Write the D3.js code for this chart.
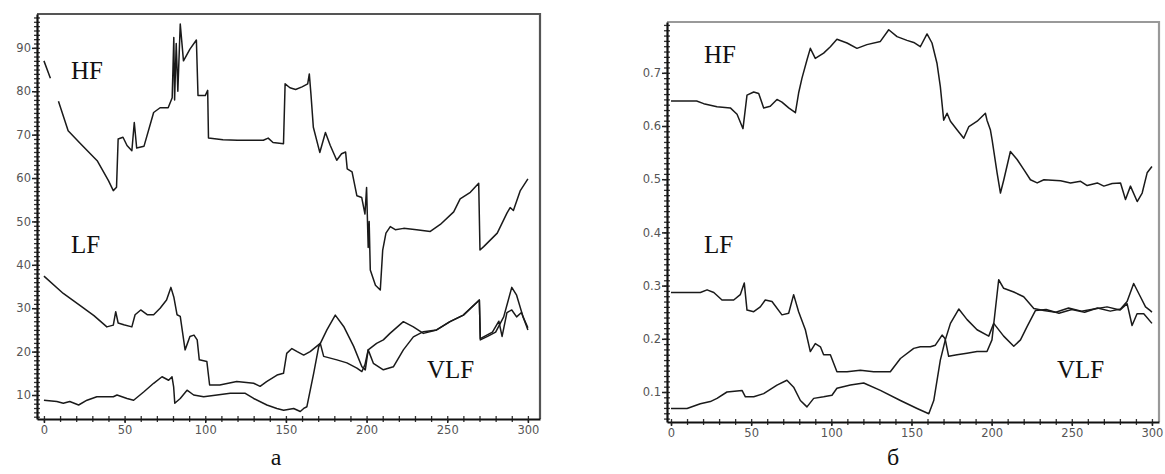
<!DOCTYPE html>
<html lang="ru">
<head>
<meta charset="UTF-8"/>
<title>HF / LF / VLF</title>
<script src="https://d3js.org/d3.v7.min.js"></script>
<style>
  body { margin:0; background:#fff; }
  .tick text { font-family:"DejaVu Sans", sans-serif; font-size:11.5px; fill:#555; }
  .lbl { font-family:"Liberation Serif", serif; font-size:25px; fill:#111; }
  .cap { font-family:"Liberation Serif", serif; font-size:24px; fill:#111; }
</style>
</head>
<body>
<script>
// ---- panel а (percent) ----
var hfA = [[0,87],[4,83],[6,null],[9,77.7],[15,70.9],[23,67.8],[33,64],[40,59.4],[43,57.1],[45,57.9],[46,69],[49,69.4],[51.5,67.5],[54.5,66.3],[56,72.8],[57.5,66.9],[62,67.3],[68,75.1],[72,76.2],[77,76.2],[79.5,78.5],[80.5,92.4],[81,78],[82,91],[83,80],[84.5,95.5],[86.5,87],[90.5,89.7],[94.5,91.8],[95.5,79],[100,79],[101.5,80.2],[102,69.2],[111,68.8],[120,68.7],[136,68.7],[139,69.2],[142,68.2],[148.5,67.9],[149.5,81.7],[152.5,80.8],[156,80.4],[160,81],[163.5,81.7],[164.5,84],[165.5,79.4],[167,71.7],[171,65.9],[174.5,70.5],[177.5,67.5],[181.5,64.1],[184.5,65.6],[187,66],[188,62.1],[191,61.4],[194,55.9],[197,55.5],[199,51.7],[200,57.8],[201,44],[201.6,50],[202.3,38.8],[205.5,35.3],[208.5,34.2],[210,43.4],[212,47.3],[214.7,48.8],[217.8,48.1],[223,48.4],[231,48.1],[239.5,47.7],[245.7,49.3],[254,52.2],[258,55.2],[264.3,56.7],[269.5,58.8],[270.3,43.4],[272.6,44.2],[281,47.3],[287,51.9],[289,53.2],[291,52.5],[295.3,57.1],[300,59.8]];
var lfA = [[0,37.4],[12,33.4],[22.5,30.6],[31,28.3],[39,25.7],[43,26.1],[44.5,29.2],[46,26.6],[49.5,26.2],[54.5,25.7],[56.5,28.5],[60,29.6],[64,28.5],[68,28.5],[72,30],[76,31.9],[78.7,34.8],[80.5,32.6],[82.5,28.5],[84.5,28.1],[87.5,20.4],[90.5,23.5],[93,23.8],[95,22.7],[96.3,18.1],[101,17.7],[102.7,12.3],[109,12.3],[119.5,13.1],[130,12.7],[134,12],[138,13.1],[144.5,14.6],[148.5,15],[150.5,19.6],[153.7,20.7],[157,20],[161,19.2],[165,20],[169,21.2],[171.3,21.9],[173.4,18.9],[181.6,18.1],[187.8,17.4],[194,16.2],[197.1,15.4],[199,17],[201,20.4],[204.2,17.3],[210.4,15.8],[216.6,16.5],[222.8,20.4],[229,23.4],[235.2,24.6],[243.4,25],[251.7,26.9],[260,28.4],[269.9,31.9],[270.5,22.7],[275,23.5],[280,24.5],[285,28],[290,34.8],[293,33],[297,28],[300,25.5]];
var vlfA = [[0,8.8],[8,8.5],[12,8.1],[16,8.5],[21.5,7.7],[26.7,8.8],[32.8,9.6],[43,9.6],[45.3,10],[51.5,9.2],[55.6,8.8],[61.8,10.7],[68,12.7],[73.2,14.2],[77.3,13.4],[79.4,14.2],[80.4,11.9],[81.1,8.1],[84.5,9.2],[88.7,11.1],[92.8,10],[99,9.6],[107.3,10],[115.5,10.4],[124.8,10.4],[130,9.2],[138.2,7.7],[144.4,6.9],[148.6,6.5],[154.8,6.9],[158.9,6.2],[161,6.9],[163,7.3],[167.2,15],[170.3,21.1],[175.4,25],[180.6,28.4],[185.8,25.8],[192,21.2],[197.1,16.5],[199.2,15.8],[201,20.4],[206.2,21.9],[210.4,22.7],[214.5,24.2],[222.8,26.9],[229,25.7],[235.2,24.2],[243.4,25],[251.7,26.9],[260,28.4],[269.9,31.9],[270.5,23],[278,24.5],[282,27],[284,23.5],[287,29],[290,29.6],[293,28],[296,29],[299,26],[300,25]];

// ---- panel б (fraction) ----
var hfB = [[0,0.647],[16,0.647],[20.4,0.642],[28.7,0.636],[37,0.634],[41.2,0.622],[44.9,0.595],[47.4,0.658],[51.6,0.664],[54.7,0.661],[57.8,0.634],[61.9,0.637],[66.1,0.65],[69.2,0.645],[73.4,0.634],[77.6,0.625],[79.6,0.662],[81.7,0.69],[84.8,0.724],[86.9,0.746],[90,0.727],[95.2,0.737],[99.4,0.749],[103.5,0.763],[109.8,0.756],[116,0.746],[122.2,0.753],[130.6,0.759],[135.8,0.781],[141,0.768],[147.2,0.761],[151.4,0.757],[155.5,0.749],[159.7,0.773],[162.8,0.756],[165.9,0.718],[168,0.674],[170.1,0.611],[172.2,0.624],[174.3,0.609],[178.4,0.593],[182.6,0.577],[185.8,0.599],[191,0.609],[196.1,0.624],[197.1,0.611],[199.2,0.593],[200.3,0.574],[203.4,0.512],[205.5,0.474],[207.6,0.499],[211.7,0.552],[215.9,0.537],[220.1,0.518],[224.2,0.499],[228.4,0.493],[232.6,0.499],[243,0.497],[249.2,0.493],[255.5,0.496],[259.6,0.488],[265.9,0.493],[270,0.487],[275.2,0.492],[280.4,0.493],[283.5,0.462],[286.6,0.487],[290.8,0.458],[293.9,0.474],[297,0.512],[300,0.524]];
var lfB = [[0,0.287],[18.3,0.287],[22.5,0.292],[26.7,0.287],[31.8,0.273],[39.1,0.273],[43.2,0.283],[45.7,0.305],[47.4,0.254],[51.6,0.251],[55.7,0.26],[58.8,0.273],[63,0.27],[69.2,0.245],[73.4,0.248],[76.5,0.283],[79.6,0.251],[83.8,0.217],[86.9,0.176],[90,0.191],[93.2,0.185],[95.2,0.17],[99.4,0.17],[103.5,0.138],[109.8,0.138],[118.1,0.141],[126.4,0.138],[136.8,0.138],[143.1,0.163],[151.4,0.182],[155.5,0.185],[161.8,0.185],[164.9,0.188],[169.1,0.207],[171,0.2],[173.2,0.167],[178.4,0.17],[184.6,0.173],[190.9,0.176],[197.1,0.176],[200.2,0.198],[204.4,0.311],[207.5,0.295],[213.8,0.288],[220,0.279],[226.3,0.257],[232.5,0.253],[240,0.25],[248,0.258],[256,0.252],[264,0.256],[272,0.26],[280,0.254],[284.5,0.266],[287.6,0.225],[290.7,0.247],[294.9,0.247],[300,0.229]];
var vlfB = [[0,0.069],[10,0.069],[18.3,0.078],[24.5,0.082],[28.7,0.088],[34.9,0.1],[44.3,0.103],[46.4,0.091],[51.6,0.091],[57.8,0.097],[66.1,0.113],[72.3,0.122],[76.5,0.109],[80.7,0.084],[84.8,0.072],[89,0.088],[95.2,0.091],[100.4,0.094],[103.5,0.107],[111.9,0.113],[120.2,0.117],[130.6,0.103],[143.1,0.084],[153.5,0.069],[160.8,0.059],[163.9,0.084],[168,0.16],[171.1,0.198],[174.3,0.229],[179.5,0.256],[184.7,0.236],[190.9,0.217],[198.2,0.205],[201.3,0.229],[207.5,0.205],[213.8,0.186],[218,0.198],[222.1,0.223],[227.3,0.253],[234,0.255],[242,0.248],[250,0.255],[258,0.25],[266,0.258],[274,0.252],[280.4,0.256],[284.5,0.27],[288.6,0.304],[292.8,0.279],[296,0.26],[299,0.253],[300,0.25]];

var xTicks = [0,50,100,150,200,250,300];
var yTicksA = [10,20,30,40,50,60,70,80,90];
var yTicksB = [0.1,0.2,0.3,0.4,0.5,0.6,0.7];
var seriesNames = ["HF","LF","VLF"];
var captions = ["а","б"];

var w = 1165, h = 474;
var svg = d3.select("body").append("svg")
    .attr("width", w)
    .attr("height", h);

function drawPanel(p) {
    var xScale = d3.scaleLinear().domain(p.xDom).range([p.left, p.right]);
    var yScale = d3.scaleLinear().domain(p.yDom).range([p.bottom, p.top]);
    var g = svg.append("g");

    // top / right border
    g.append("path")
        .attr("d", "M" + p.left + "," + p.top + "H" + p.right + "V" + p.bottom)
        .attr("fill", "none")
        .attr("stroke", p.frameColor)
        .attr("stroke-width", 2.2);

    // minor ticks, crossing the axis
    var xMinor = d3.range(0, 301, 10);
    var yMinor = d3.range(p.yMinor[0], p.yMinor[1] + 1e-9, p.yMinor[2]).filter(function(v){ return v >= p.yDom[0] && v <= p.yDom[1]; });
    [3, -3].forEach(function(s) {
        g.append("g").attr("transform", "translate(0," + p.bottom + ")")
            .call(d3.axisBottom(xScale).tickValues(xMinor).tickSize(s).tickSizeOuter(0).tickFormat(""))
            .call(function(a){ a.select(".domain").remove(); })
            .selectAll("line").attr("stroke", "#333").attr("stroke-width", 1.3);
        g.append("g").attr("transform", "translate(" + p.left + ",0)")
            .call(d3.axisLeft(yScale).tickValues(yMinor).tickSize(s).tickSizeOuter(0).tickFormat(""))
            .call(function(a){ a.select(".domain").remove(); })
            .selectAll("line").attr("stroke", "#333").attr("stroke-width", 1.3);
    });

    // major axes
    var xAxis = g.append("g").attr("transform", "translate(0," + p.bottom + ")")
        .call(d3.axisBottom(xScale).tickValues(xTicks).tickSize(4).tickSizeOuter(0).tickPadding(3));
    var yAxis = g.append("g").attr("transform", "translate(" + p.left + ",0)")
        .call(d3.axisLeft(yScale).tickValues(p.yTicks).tickSize(5).tickSizeOuter(0).tickPadding(1).tickFormat(p.fmt));
    [xAxis, yAxis].forEach(function(a) {
        a.select(".domain").attr("stroke", "#111").attr("stroke-width", 2.2);
        a.selectAll(".tick line").attr("stroke", "#222").attr("stroke-width", 1.5);
    });

    var line = d3.line()
        .defined(function(d){ return d[1] !== null; })
        .x(function(d){ return xScale(d[0]); })
        .y(function(d){ return yScale(d[1]); });

    g.selectAll("path.series")
        .data(p.series)
        .enter()
        .append("path")
        .attr("class", "series")
        .attr("d", line)
        .attr("fill", "none")
        .attr("stroke", "#1a1a1a")
        .attr("stroke-width", 1.5)
        .attr("stroke-linejoin", "round");

    g.selectAll("text.lbl")
        .data(seriesNames)
        .enter()
        .append("text")
        .attr("class", "lbl")
        .attr("x", function(d, i){ return p.labelPos[i][0]; })
        .attr("y", function(d, i){ return p.labelPos[i][1]; })
        .text(function(d){ return d; });

    g.append("text")
        .attr("class", "cap")
        .attr("x", p.capX)
        .attr("y", 465)
        .attr("text-anchor", "middle")
        .text(p.caption);
}

drawPanel({
    left: 37, right: 540, top: 14, bottom: 419,
    xDom: [-4.3, 307.5], yDom: [4.47, 97.8],
    yTicks: yTicksA, yMinor: [5, 97, 1], fmt: d3.format("d"),
    series: [hfA, lfA, vlfA],
    labelPos: [[71, 79], [71, 253], [427, 378]],
    frameColor: "#555",
    caption: captions[0], capX: 276
});

drawPanel({
    left: 667, right: 1159, top: 22, bottom: 422,
    xDom: [-2.5, 304.4], yDom: [0.0436, 0.7955],
    yTicks: yTicksB, yMinor: [0.05, 0.79, 0.01], fmt: d3.format(".1f"),
    series: [hfB, lfB, vlfB],
    labelPos: [[704, 63], [704, 253], [1057, 378]],
    frameColor: "#999",
    caption: captions[1], capX: 893
});
</script>
</body>
</html>
